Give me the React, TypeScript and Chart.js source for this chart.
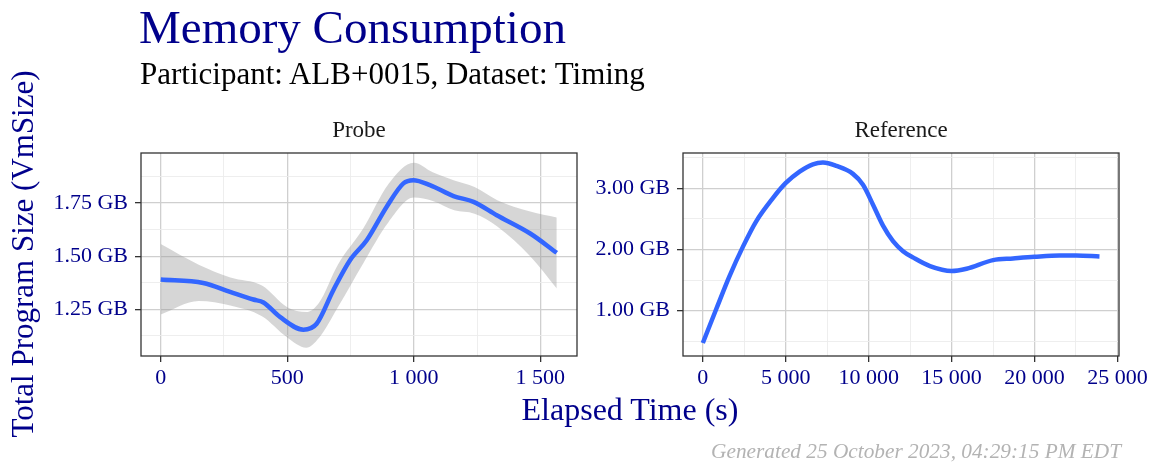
import React, { useEffect, useRef } from 'react';
import { Chart, registerables } from 'chart.js';

Chart.register(...registerables);

const FONT = '"Liberation Serif", "Times New Roman", serif';
const DARKBLUE = '#00008B';
const LINE = '#3366FF';
const MAJOR_GRID = '#cfcfcf';
const MINOR_GRID = '#ececec';

// Probe panel: smoothed fit and confidence band (seconds, GB)
const probeX = [0, 168, 274, 366, 406, 471, 564, 616, 682, 748, 814, 893, 959, 998, 1064, 1157, 1236, 1328, 1460, 1565];
const probeY = [1.39, 1.374, 1.332, 1.296, 1.282, 1.214, 1.154, 1.182, 1.34, 1.481, 1.575, 1.733, 1.843, 1.858, 1.835, 1.783, 1.756, 1.693, 1.607, 1.516];
const probeBandX = [0, 150, 275, 400, 500, 575, 625, 700, 800, 900, 1000, 1075, 1160, 1240, 1330, 1460, 1565];
const probeUpper = [1.557, 1.46, 1.4, 1.362, 1.26, 1.237, 1.28, 1.46, 1.63, 1.84, 1.94, 1.895, 1.857, 1.826, 1.764, 1.71, 1.682];
const probeLower = [1.226, 1.289, 1.268, 1.217, 1.117, 1.069, 1.115, 1.26, 1.466, 1.66, 1.776, 1.76, 1.716, 1.7, 1.64, 1.5, 1.348];

// Reference panel: smoothed fit (seconds, GB)
const refX = [0, 805, 1610, 2414, 3219, 4225, 4990, 5835, 6640, 7243, 8048, 9054, 9658, 10262, 10865, 11469, 12072, 12695, 13697, 15000, 15902, 17505, 18707, 20000, 21513, 22515, 23918];
const refY = [0.472, 1.024, 1.566, 2.043, 2.461, 2.84, 3.084, 3.274, 3.393, 3.42, 3.366, 3.236, 3.057, 2.732, 2.39, 2.136, 1.973, 1.868, 1.729, 1.648, 1.686, 1.827, 1.854, 1.881, 1.902, 1.902, 1.886];

// Tick values (grid lines) and which of them are labelled
const probeXTicks = [0, 250, 500, 750, 1000, 1250, 1500];
const probeXMajor = [0, 500, 1000, 1500];
const probeYTicks = [1.125, 1.25, 1.375, 1.5, 1.625, 1.75, 1.875];
const probeYMajor = [1.25, 1.5, 1.75];
const refXTicks = [0, 2500, 5000, 7500, 10000, 12500, 15000, 17500, 20000, 22500, 25000];
const refXMajor = [0, 5000, 10000, 15000, 20000, 25000];
const refYTicks = [0.5, 1, 1.5, 2, 2.5, 3, 3.5];
const refYMajor = [1, 2, 3];

const W = 1156;
const H = 464;
const Y_W = 100;
const X_H = 40;

function fmtThousands(v: number): string {
  const s = String(Math.round(v));
  return s.replace(/\B(?=(\d{3})+(?!\d))/g, ' ');
}

const panelBorder = {
  id: 'panelBorder',
  afterDatasetsDraw(chart: any) {
    const { ctx, chartArea: a } = chart;
    ctx.save();
    ctx.strokeStyle = '#333333';
    ctx.lineWidth = 1.3;
    ctx.strokeRect(a.left, a.top, a.right - a.left, a.bottom - a.top);
    ctx.restore();
  },
};

function pts(xs: number[], ys: number[]) {
  return xs.map((x, i) => ({ x, y: ys[i] }));
}

function axis(
  min: number,
  max: number,
  tickVals: number[],
  major: number[],
  fmt: (v: number) => string,
  isX: boolean
) {
  const isMajor = (v: number) => major.includes(v);
  return {
    type: 'linear',
    min,
    max,
    afterBuildTicks: (s: any) => {
      s.ticks = tickVals.map((v) => ({ value: v }));
    },
    afterFit: (s: any) => {
      if (isX) s.height = X_H;
      else s.width = Y_W;
    },
    ticks: {
      autoSkip: false,
      maxRotation: 0,
      minRotation: 0,
      padding: isX ? 3 : 7,
      color: DARKBLUE,
      font: { family: FONT, size: 22 },
      callback: (v: any) => (isMajor(Number(v)) ? fmt(Number(v)) : ''),
    },
    grid: {
      drawTicks: true,
      tickLength: 6,
      tickWidth: 1.3,
      color: (c: any) => (c.tick && isMajor(c.tick.value) ? MAJOR_GRID : MINOR_GRID),
      lineWidth: (c: any) => (c.tick && isMajor(c.tick.value) ? 1.3 : 0.9),
      tickColor: (c: any) => (c.tick && isMajor(c.tick.value) ? '#333333' : 'rgba(0,0,0,0)'),
    },
    border: { display: false },
  };
}

function makeConfig(
  datasets: any[],
  area: { left: number; top: number; right: number; bottom: number },
  x: any,
  y: any
): any {
  return {
    type: 'line',
    data: { datasets },
    options: {
      responsive: false,
      animation: false,
      devicePixelRatio: 1,
      layout: {
        padding: {
          left: area.left - Y_W,
          right: W - area.right,
          top: area.top,
          bottom: H - area.bottom - X_H,
        },
      },
      plugins: { legend: { display: false }, tooltip: { enabled: false } },
      scales: { x, y },
    },
    plugins: [panelBorder],
  };
}

const probeConfig = makeConfig(
  [
    {
      data: pts(probeX, probeY),
      borderColor: LINE,
      borderWidth: 4.5,
      pointRadius: 0,
      cubicInterpolationMode: 'monotone',
      fill: false,
    },
    {
      data: pts(probeBandX, probeUpper),
      borderWidth: 0,
      borderColor: 'rgba(0,0,0,0)',
      backgroundColor: 'rgba(153,153,153,0.4)',
      pointRadius: 0,
      cubicInterpolationMode: 'monotone',
      fill: '+1',
    },
    {
      data: pts(probeBandX, probeLower),
      borderWidth: 0,
      borderColor: 'rgba(0,0,0,0)',
      pointRadius: 0,
      cubicInterpolationMode: 'monotone',
      fill: false,
    },
  ],
  { left: 141, top: 153, right: 577, bottom: 356 },
  axis(-78, 1645, probeXTicks, probeXMajor, fmtThousands, true),
  axis(1.03, 1.986, probeYTicks, probeYMajor, (v) => v.toFixed(2) + ' GB', false)
);

const refConfig = makeConfig(
  [
    {
      data: pts(refX, refY),
      borderColor: LINE,
      borderWidth: 4.5,
      pointRadius: 0,
      cubicInterpolationMode: 'monotone',
      fill: false,
    },
  ],
  { left: 683, top: 153, right: 1119, bottom: 356 },
  axis(-1195, 25095, refXTicks, refXMajor, fmtThousands, true),
  axis(0.26, 3.577, refYTicks, refYMajor, (v) => v.toFixed(2) + ' GB', false)
);

function Panel({ config }: { config: any }) {
  const ref = useRef<HTMLCanvasElement | null>(null);
  useEffect(() => {
    if (!ref.current) return;
    const chart = new Chart(ref.current, config);
    return () => chart.destroy();
  }, [config]);
  return (
    <canvas
      ref={ref}
      width={W}
      height={H}
      style={{ position: 'absolute', left: 0, top: 0, width: W, height: H }}
    />
  );
}

export default function App() {
  return (
    <div
      style={{
        position: 'absolute',
        left: 0,
        top: 0,
        width: W,
        height: H,
        background: '#ffffff',
        overflow: 'hidden',
      }}
    >
      <Panel config={probeConfig} />
      <Panel config={refConfig} />
      <svg
        width={W}
        height={H}
        style={{ position: 'absolute', left: 0, top: 0, pointerEvents: 'none' }}
        fontFamily={FONT}
      >
        <text x={139} y={43} fontSize={47} fill={DARKBLUE}>
          Memory Consumption
        </text>
        <text x={140} y={84} fontSize={31} fill="#000000">
          Participant: ALB+0015, Dataset: Timing
        </text>
        <text x={359} y={137} fontSize={23} fill="#1a1a1a" textAnchor="middle">
          Probe
        </text>
        <text x={901} y={137} fontSize={23} fill="#1a1a1a" textAnchor="middle">
          Reference
        </text>
        <text x={630} y={420} fontSize={32} fill={DARKBLUE} textAnchor="middle">
          Elapsed Time (s)
        </text>
        <text
          x={0}
          y={0}
          fontSize={31}
          fill={DARKBLUE}
          textAnchor="middle"
          transform="translate(33 254) rotate(-90)"
        >
          Total Program Size (VmSize)
        </text>
        <text x={1121} y={458} fontSize={21.3} fontStyle="italic" fill="#b3b3b3" textAnchor="end">
          Generated 25 October 2023, 04:29:15 PM EDT
        </text>
      </svg>
    </div>
  );
}
